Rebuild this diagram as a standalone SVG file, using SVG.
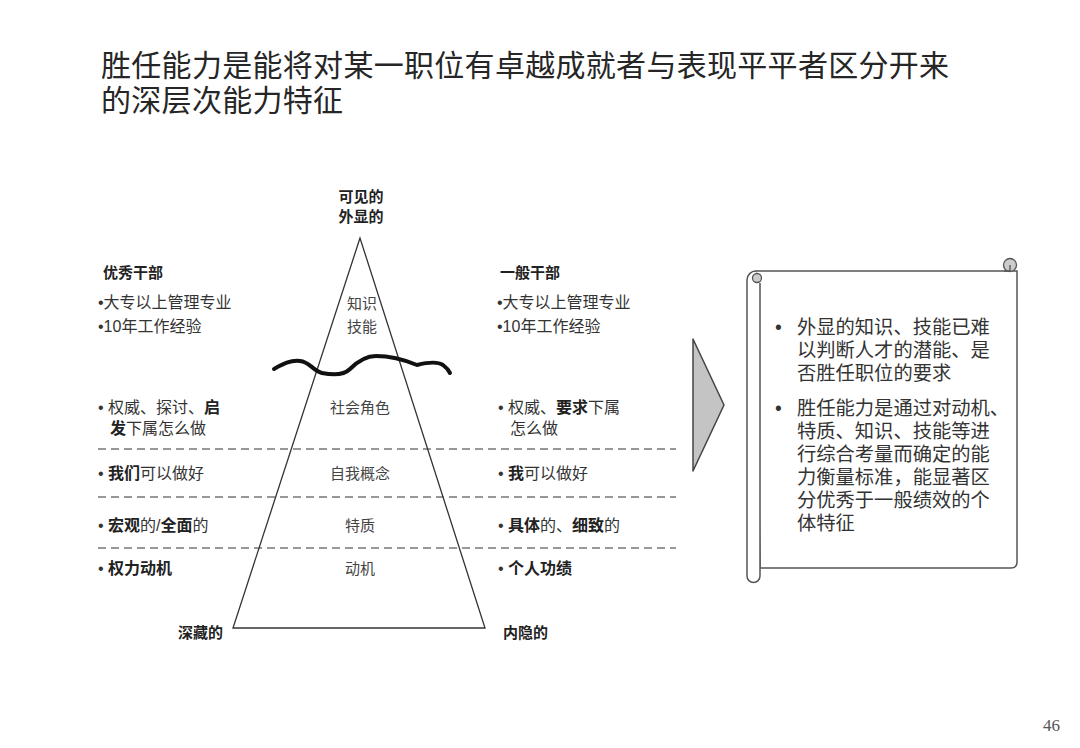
<svg xmlns="http://www.w3.org/2000/svg" width="1080" height="748" viewBox="0 0 1080 748">
<style>
.t{font-family:"Liberation Sans","Noto Sans CJK SC",sans-serif;fill:#222}
.title{font-size:30px;fill:#262626;letter-spacing:0.3px}
.lab{font-size:15px;font-weight:bold}
.item{font-size:16px;fill:#333}
.mid{font-size:15px;fill:#444;text-anchor:middle}
.b{font-weight:bold;fill:#222}
.scr{font-size:19.3px;fill:#333}
.dash{stroke:#333;stroke-width:1.2;stroke-dasharray:8 5;fill:none}
.ln{stroke:#333;stroke-width:1.3;fill:none}
.scroll{stroke:#555;stroke-width:1.5;fill:#fff}
</style>
<rect width="1080" height="748" fill="#fff"/>
<g id="title">
<text class="t title" x="101" y="76">胜任能力是能将对某一职位有卓越成就者与表现平平者区分开来<tspan x="101" dy="35">的深层次能力特征</tspan></text>
</g>
<g id="connectors">
<line class="dash" x1="98" y1="449" x2="676" y2="449"/>
<line class="dash" x1="98" y1="497" x2="676" y2="497"/>
<line class="dash" x1="98" y1="548" x2="676" y2="548"/>
</g>
<g id="pyramid">
<polygon class="ln" points="360,238 233,628 485,628"/>
<path d="M274,369 C283,364 290,360 300,361 C310,362 312,370 322,373 C332,375 343,376 350,369 C357,362 365,356 376,356 C390,356 405,360 417,365 C425,363 437,361 443,365 C447,368 449,371 450,373" fill="none" stroke="#111" stroke-width="4" stroke-linecap="round" stroke-linejoin="round"/>
<text class="t lab" x="361" y="202" text-anchor="middle">可见的<tspan x="361" dy="20">外显的</tspan></text>
<text class="t mid" x="362" y="309">知识<tspan x="362" dy="23">技能</tspan></text>
<text class="t mid" x="360" y="413">社会角色</text>
<text class="t mid" x="360" y="479">自我概念</text>
<text class="t mid" x="360" y="531">特质</text>
<text class="t mid" x="360" y="574">动机</text>
<text class="t lab" x="178" y="638">深藏的</text>
<text class="t lab" x="503" y="638">内隐的</text>
</g>
<g id="left-column">
<text class="t lab" x="103" y="278">优秀干部</text>
<text class="t item" x="98" y="308">•大专以上管理专业<tspan x="98" dy="24">•10年工作经验</tspan></text>
<text class="t item" x="98" y="413">•  权威、探讨、<tspan class="b">启</tspan><tspan x="110" dy="21" class="b">发</tspan>下属怎么做</text>
<text class="t item" x="98" y="479">•  <tspan class="b">我们</tspan>可以做好</text>
<text class="t item" x="98" y="531">•  <tspan class="b">宏观</tspan>的/<tspan class="b">全面</tspan>的</text>
<text class="t item" x="98" y="574">•  <tspan class="b">权力动机</tspan></text>
</g>
<g id="right-column">
<text class="t lab" x="500" y="278">一般干部</text>
<text class="t item" x="497" y="308">•大专以上管理专业<tspan x="497" dy="24">•10年工作经验</tspan></text>
<text class="t item" x="498" y="413">•  权威、<tspan class="b">要求</tspan>下属<tspan x="510" dy="21">怎么做</tspan></text>
<text class="t item" x="498" y="479">•  <tspan class="b">我</tspan>可以做好</text>
<text class="t item" x="498" y="531">•  <tspan class="b">具体</tspan>的、<tspan class="b">细致</tspan>的</text>
<text class="t item" x="498" y="574">•  <tspan class="b">个人功绩</tspan></text>
</g>
<g id="arrow">
<polygon points="693,339 724,405 693,471" fill="#c4c4c4" stroke="#444" stroke-width="1.5" stroke-linejoin="round"/>
</g>
<g id="scroll">
<path class="scroll" d="M756,271 L1017,271 L1017,562 Q1017,568 1011,568 L760,568 Z"/>
<path class="scroll" d="M760,283 L760,576 A6.5,6.5 0 0 1 747,576 L747,280 A9,9 0 0 1 756,271"/>
<circle cx="757" cy="278" r="4.5" fill="#ccc" stroke="#555" stroke-width="1.3"/>
<circle cx="1010" cy="265" r="6.5" fill="#ccc" stroke="#555" stroke-width="1.3"/>
<path d="M1004,271 L1010,271 L1010,265" fill="none" stroke="#555" stroke-width="1.3"/>
<text class="t scr" x="775" y="334">•<tspan x="797">外显的知识、技能已难</tspan><tspan x="797" dy="23">以判断人才的潜能、是</tspan><tspan x="797" dy="23">否胜任职位的要求</tspan><tspan x="775" dy="35">•</tspan><tspan x="797">胜任能力是通过对动机、</tspan><tspan x="797" dy="23">特质、知识、技能等进</tspan><tspan x="797" dy="23">行综合考量而确定的能</tspan><tspan x="797" dy="23">力衡量标准，能显著区</tspan><tspan x="797" dy="23">分优秀于一般绩效的个</tspan><tspan x="797" dy="23">体特征</tspan></text>
</g>
<g id="page-number">
<text x="1043" y="731" font-family="Liberation Serif, serif" font-size="17" fill="#555">46</text>
</g>
</svg>
